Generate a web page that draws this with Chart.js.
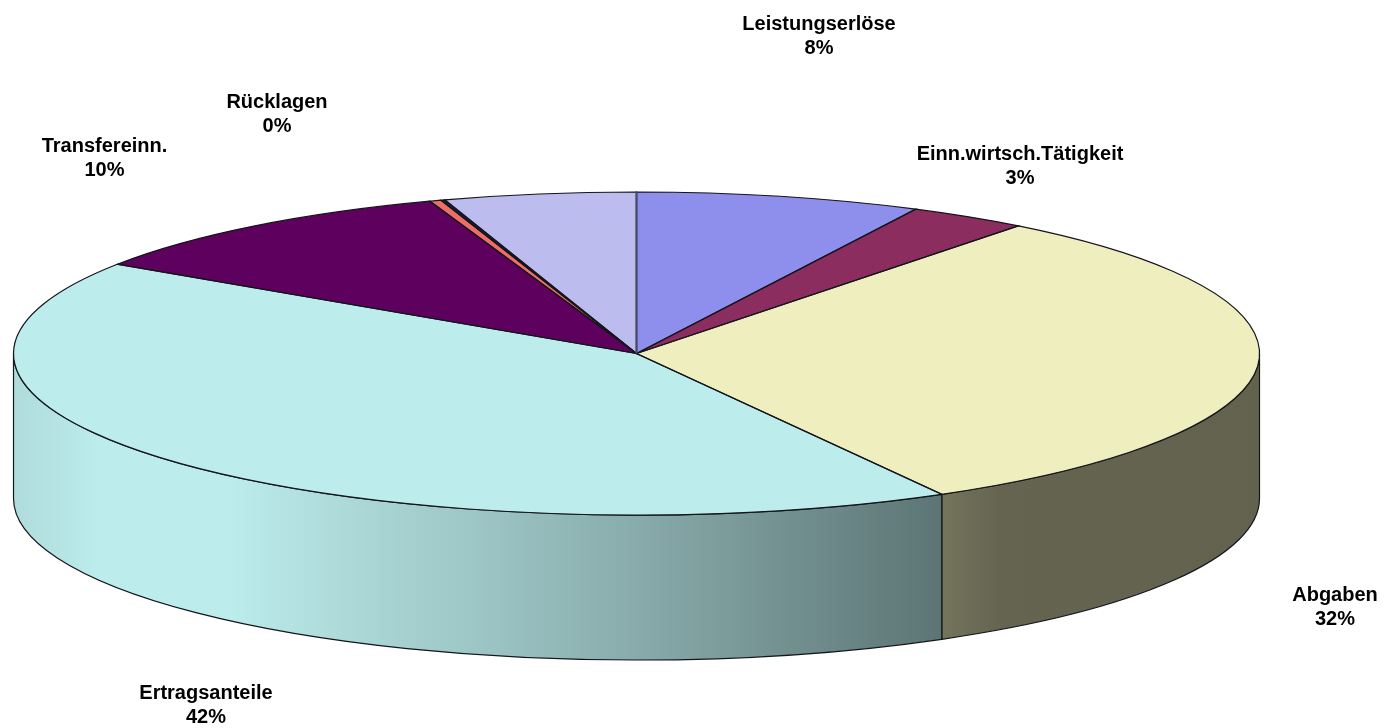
<!DOCTYPE html>
<html>
<head>
<meta charset="utf-8">
<title>Einnahmen</title>
<script src="https://cdn.jsdelivr.net/npm/chart.js@4/dist/chart.umd.min.js"></script>
<style>
  html, body { margin: 0; padding: 0; background: #fff; overflow: hidden; }
  canvas { display: block; }
</style>
</head>
<body>
<canvas id="pie" width="1384" height="728"></canvas>
<script>
// Data, clockwise from 12 o'clock
const sliceNames = ["Leistungserlöse", "Einn.wirtsch.Tätigkeit", "Abgaben", "Ertragsanteile", "Transfereinn.", "Rücklagen", "", ""];
const sliceValues = [7.4, 3.1, 31.35, 42.47, 10.3, 0.3, 0.1, 4.98];
const percentLabels = ["8%", "3%", "32%", "42%", "10%", "0%", "", ""];
const sliceColors = ["#8e8eec", "#8b2d5f", "#eeeebe", "#bcecec", "#5e005e", "#ec6e64", "#141e50", "#bcbcee"];

// Label centres, first line
const labelX = [819, 1020, 1335, 206, 104.5, 277];
const labelY = [24, 154, 595, 693, 146, 102];
const lineGap = 24;

// Pie geometry
const radiusX = 623;
const radiusY = 161.5;
const depth = 145;
const outline = "#15151c";

// Wall shading along x: [x, brightness]
const shadeStops = [[13, 0.93], [100, 1], [230, 1], [300, 0.95], [500, 0.82], [700, 0.68], [942, 0.49], [1000, 0.42], [1260, 0.41]];

function shadeColor(hex, f) {
  const r = parseInt(hex.slice(1, 3), 16) * f;
  const g = parseInt(hex.slice(3, 5), 16) * f;
  const b = parseInt(hex.slice(5, 7), 16) * f;
  return `rgb(${Math.round(r)},${Math.round(g)},${Math.round(b)})`;
}

function wallGradient(ctx, hex) {
  const x0 = shadeStops[0][0];
  const x1 = shadeStops[shadeStops.length - 1][0];
  const grad = ctx.createLinearGradient(x0, 0, x1, 0);
  shadeStops.forEach(s => grad.addColorStop((s[0] - x0) / (x1 - x0), shadeColor(hex, s[1])));
  return grad;
}

const pie3d = {
  id: "pie3d",
  beforeDatasetsDraw(chart) {
    const ctx = chart.ctx;
    const arcs = chart.getDatasetMeta(0).data;
    const cx = arcs[0].x;
    const cy = arcs[0].y;

    // Side wall, only the part of each slice facing the viewer
    arcs.forEach((arc, i) => {
      const a = Math.max(arc.startAngle, 0);
      const b = Math.min(arc.endAngle, Math.PI);
      if (b <= a) return;
      ctx.beginPath();
      ctx.ellipse(cx, cy, radiusX, radiusY, 0, a, b);
      ctx.ellipse(cx, cy + depth, radiusX, radiusY, 0, b, a, true);
      ctx.closePath();
      ctx.fillStyle = wallGradient(ctx, sliceColors[i]);
      ctx.fill();
      ctx.strokeStyle = outline;
      ctx.lineWidth = 1.2;
      ctx.stroke();
    });

    // Flatten the pie itself into an ellipse
    ctx.save();
    ctx.translate(0, cy);
    ctx.scale(1, radiusY / radiusX);
    ctx.translate(0, -cy);
  },
  afterDatasetsDraw(chart) {
    const ctx = chart.ctx;
    ctx.restore();

    // Outlines go here so the scale does not thin them
    const arcs = chart.getDatasetMeta(0).data;
    arcs.forEach(arc => {
      ctx.beginPath();
      ctx.moveTo(arc.x, arc.y);
      ctx.ellipse(arc.x, arc.y, radiusX, radiusY, 0, arc.startAngle, arc.endAngle);
      ctx.closePath();
      ctx.strokeStyle = outline;
      ctx.lineWidth = 1.2;
      ctx.stroke();
    });

    // The 12 o'clock edge is heavier in the original
    ctx.beginPath();
    ctx.moveTo(arcs[0].x, arcs[0].y);
    ctx.lineTo(arcs[0].x, arcs[0].y - radiusY);
    ctx.strokeStyle = "#4a4a6c";
    ctx.lineWidth = 2;
    ctx.stroke();

    // Labels
    ctx.fillStyle = "#000";
    ctx.font = "bold 20px 'Liberation Sans', Arial, sans-serif";
    ctx.textAlign = "center";
    ctx.textBaseline = "middle";
    labelX.forEach((x, i) => {
      ctx.fillText(sliceNames[i], x, labelY[i]);
      ctx.fillText(percentLabels[i], x, labelY[i] + lineGap);
    });
  }
};

const pieChart = new Chart(document.getElementById("pie").getContext("2d"), {
  type: "pie",
  data: {
    labels: sliceNames,
    datasets: [{
      data: sliceValues,
      backgroundColor: sliceColors,
      borderWidth: 0,
      clip: false
    }]
  },
  options: {
    responsive: false,
    animation: false,
    radius: radiusX,
    layout: { padding: { left: 0, right: 111, top: 0, bottom: 21 } },
    plugins: {
      legend: { display: false },
      tooltip: { enabled: false }
    }
  },
  plugins: [pie3d]
});
</script>
</body>
</html>
